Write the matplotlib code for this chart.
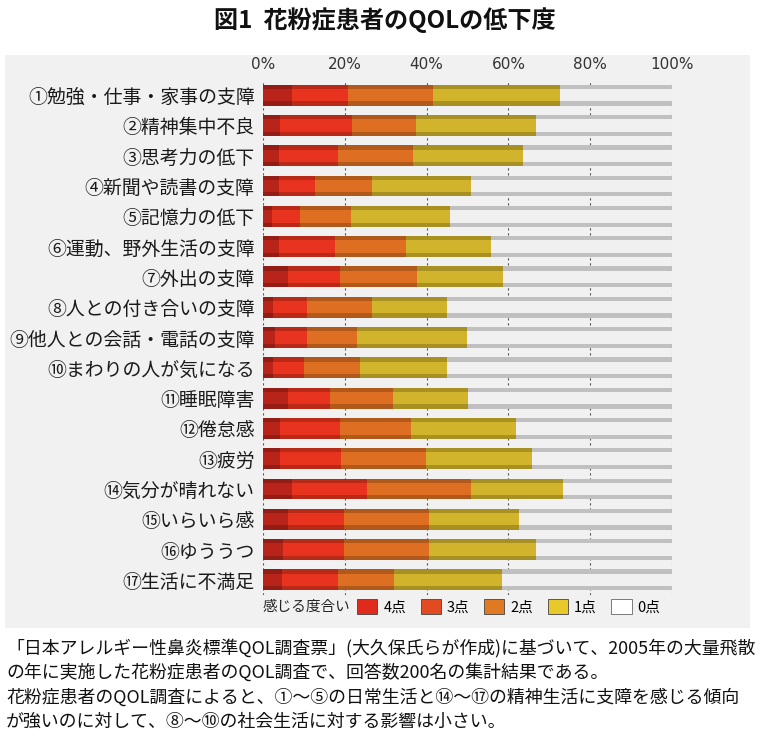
import matplotlib
matplotlib.use("Agg")
import matplotlib.pyplot as plt
from matplotlib.patches import Rectangle, Patch
import numpy as np

plt.rcParams['font.family'] = ['Noto Sans CJK JP', 'DejaVu Sans']

title = "図1  花粉症患者のQOLの低下度"
categories = [
    "①勉強・仕事・家事の支障", "②精神集中不良", "③思考力の低下", "④新聞や読書の支障",
    "⑤記憶力の低下", "⑥運動、野外生活の支障", "⑦外出の支障", "⑧人との付き合いの支障",
    "⑨他人との会話・電話の支障", "⑩まわりの人が気になる", "⑪睡眠障害", "⑫倦怠感",
    "⑬疲労", "⑭気分が晴れない", "⑮いらいら感", "⑯ゆううつ", "⑰生活に不満足",
]
score4 = [7.1, 4.2, 3.9, 3.9, 2.1, 3.9, 6.0, 2.4, 3.0, 2.5, 6.0, 4.2, 4.2, 7.0, 6.2, 5.0, 4.7]
score3 = [13.6, 17.5, 14.4, 8.7, 7.0, 13.6, 12.8, 8.3, 7.7, 7.6, 10.4, 14.6, 14.9, 18.4, 13.5, 14.7, 13.6]
score2 = [20.8, 15.7, 18.3, 14.0, 12.4, 17.5, 18.8, 15.9, 12.4, 13.6, 15.5, 17.4, 20.8, 25.4, 20.9, 20.8, 13.8]
score1 = [31.0, 29.4, 26.9, 24.2, 24.3, 20.7, 21.0, 18.4, 26.8, 21.4, 18.1, 25.7, 25.9, 22.5, 22.1, 26.3, 26.3]
score0 = [27.5, 33.2, 36.5, 49.2, 54.2, 44.3, 41.4, 55.0, 50.1, 54.9, 50.0, 38.1, 34.2, 26.7, 37.3, 33.2, 41.6]
series_labels = ["4点", "3点", "2点", "1点", "0点"]
tick_values = [0, 20, 40, 60, 80, 100]
tick_labels = ["0%", "20%", "40%", "60%", "80%", "100%"]
legend_title = "感じる度合い"
note_lines = [
    "「日本アレルギー性鼻炎標準QOL調査票」(大久保氏らが作成)に基づいて、2005年の大量飛散",
    "の年に実施した花粉症患者のQOL調査で、回答数200名の集計結果である。",
    "花粉症患者のQOL調査によると、①～⑤の日常生活と⑭～⑰の精神生活に支障を感じる傾向",
    "が強いのに対して、⑧～⑩の社会生活に対する影響は小さい。",
]

colors = ["#b8241a", "#e8341e", "#de6e22", "#d2b42c", "#f0f0f0"]
legend_colors = ["#e02a1c", "#e24a22", "#e07a22", "#e8c82a", "#ffffff"]

W, H = 760, 754
fig = plt.figure(figsize=(W / 100, H / 100), dpi=100)
fig.patch.set_facecolor("white")

# light panel behind chart
fig.patches.append(Rectangle((5 / W, 1 - 628 / H), 745 / W, 573 / H,
                             transform=fig.transFigure, facecolor="#f1f1f1",
                             edgecolor="none", zorder=-10))

fig.text(385 / W, 1 - 20 / H, title, ha="center", va="center",
         fontsize=17.4, fontweight="bold", color="#111111")

ax = fig.add_axes([263 / W, 1 - 595 / H, 409 / W, 515 / H])
ax.set_facecolor("none")
ax.set_zorder(1)

y = np.arange(len(categories))
series = [score4, score3, score2, score1, score0]
left = np.zeros(len(categories))
bh = 0.69
for vals, col in zip(series, colors):
    vals = np.array(vals)
    ax.barh(y, vals, left=left, height=bh, color=col, edgecolor="none", zorder=3)
    # darker shading at top/bottom edges for a 3-D look
    ax.barh(y - bh / 2 + 0.07, vals, left=left, height=0.14, color="black",
            alpha=0.2, edgecolor="none", zorder=4)
    ax.barh(y + bh / 2 - 0.07, vals, left=left, height=0.14, color="black",
            alpha=0.2, edgecolor="none", zorder=4)
    left += vals

ax.set_xlim(0, 100)
ax.set_ylim(len(categories) - 0.5, -0.5)
ax.set_yticks(y)
ax.set_yticklabels(categories, fontsize=13.6, color="#1a1a1a")
ax.xaxis.tick_top()
ax.set_xticks(tick_values)
ax.set_xticklabels(tick_labels, fontsize=11, color="#333333",
                   family=["DejaVu Sans"])
ax.tick_params(axis="both", length=0)
ax.tick_params(axis="x", pad=6)
ax.tick_params(axis="y", pad=6)
for s in ax.spines.values():
    s.set_visible(False)
for tv in tick_values:
    ax.axvline(tv, color="#555555", lw=0.8, ls=(0, (2, 2.5)), zorder=1)

# legend
fig.text(263 / W, 1 - 607 / H, legend_title, ha="left", va="center",
         fontsize=10.5, color="#222222")
handles = [Patch(facecolor=c, edgecolor="#444444" if i < 4 else "#666666",
                 linewidth=0.6) for i, c in enumerate(legend_colors)]
fig.legend(handles, series_labels, loc="center left",
           bbox_to_anchor=(357 / W, 1 - 607 / H), ncol=5, frameon=False,
           fontsize=10.5, handlelength=1.4, handleheight=1.2, handletextpad=0.4,
           columnspacing=1.0, borderpad=0, borderaxespad=0)

for i, line in enumerate(note_lines):
    fig.text(6 / W, 1 - (648 + i * 24.5) / H, line, ha="left", va="center",
             fontsize=12.9, color="#111111")

fig.savefig("out.png", dpi=100, facecolor="white")
